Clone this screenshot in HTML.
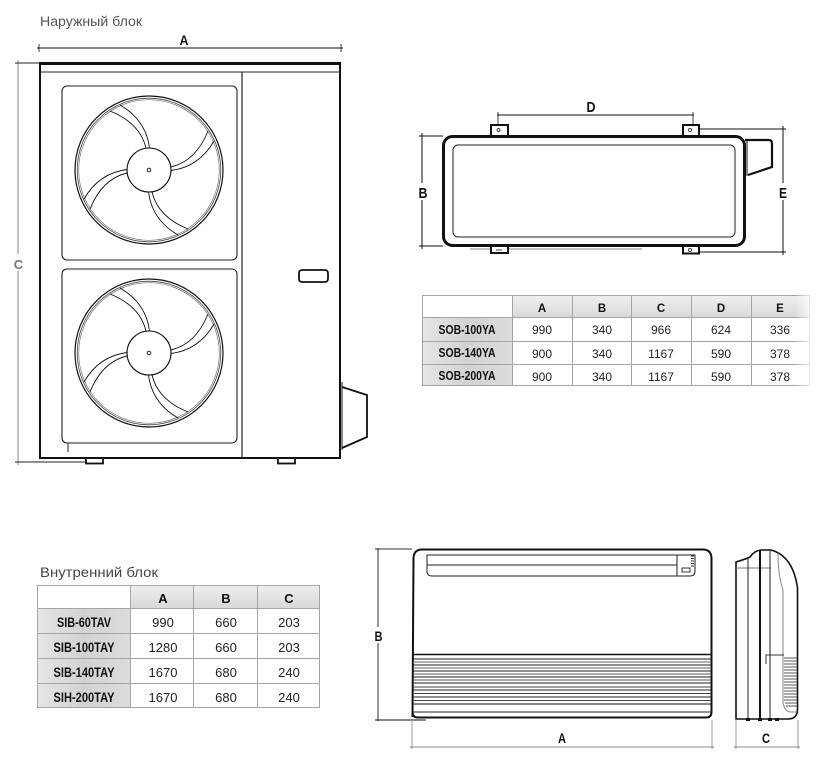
<!DOCTYPE html>
<html><head><meta charset="utf-8"><style>
html,body{margin:0;padding:0;background:#fff;}
svg{display:block;}
text{font-family:"Liberation Sans Narrow","Liberation Sans",sans-serif;}
</style></head><body>
<svg width="825" height="764" viewBox="0 0 825 764" xmlns="http://www.w3.org/2000/svg">
<defs>
<linearGradient id="hg" x1="0" y1="0" x2="0" y2="1"><stop offset="0" stop-color="#f0f0f0"/><stop offset="1" stop-color="#d9d9d9"/></linearGradient>
<linearGradient id="cg" x1="0" y1="0" x2="1" y2="0"><stop offset="0" stop-color="#e6e6e6"/><stop offset="0.5" stop-color="#d2d2d2"/><stop offset="1" stop-color="#dcdcdc"/></linearGradient>
<linearGradient id="fade" x1="0" y1="0" x2="1" y2="0"><stop offset="0" stop-color="#fff" stop-opacity="0"/><stop offset="1" stop-color="#fff" stop-opacity="1"/></linearGradient>
<g id="fan" fill="none" stroke="#111">
<circle r="74" stroke-width="1.2"/>
<circle r="71.8" stroke-width="0.8" stroke="#444"/>
<circle r="70.3" stroke-width="0.7" stroke="#777"/>
<circle r="22" stroke-width="1.1"/>
<circle r="1.8" stroke-width="0.9"/>
<g id="blade" stroke-width="0.9">
<path d="M-3,-22 Q-9,-47 -39,-59"/>
<path d="M0.5,-22 Q-3,-50 -29,-65"/>
</g>
<use href="#blade" transform="rotate(90)"/>
<use href="#blade" transform="rotate(180)"/>
<use href="#blade" transform="rotate(270)"/>
</g>
</defs>

<!-- ============ OUTDOOR UNIT (front) ============ -->
<text x="40" y="26" font-size="13.5" fill="#555" font-family="Liberation Sans, sans-serif" textLength="102" lengthAdjust="spacingAndGlyphs">Наружный блок</text>
<line x1="37" y1="48" x2="343" y2="48" stroke="#111" stroke-width="1"/>
<line x1="39" y1="44" x2="39" y2="52" stroke="#111" stroke-width="0.8"/>
<line x1="341" y1="44" x2="341" y2="52" stroke="#111" stroke-width="0.8"/>
<text x="184" y="45" font-size="14" font-weight="bold" text-anchor="middle" fill="#111" textLength="9" lengthAdjust="spacingAndGlyphs">A</text>
<line x1="18" y1="60" x2="18" y2="465" stroke="#888" stroke-width="1"/>
<line x1="15" y1="63" x2="39" y2="63" stroke="#222" stroke-width="1"/>
<line x1="15" y1="462" x2="86" y2="462" stroke="#222" stroke-width="1"/>
<rect x="13" y="254" width="11" height="17" fill="#fff"/>
<text x="18.5" y="269" font-size="13" font-weight="bold" text-anchor="middle" fill="#777">C</text>
<rect x="40" y="64" width="300" height="394" fill="none" stroke="#111" stroke-width="2"/>
<line x1="39" y1="63.5" x2="341" y2="63.5" stroke="#111" stroke-width="3"/>
<line x1="40" y1="72" x2="340" y2="72" stroke="#222" stroke-width="1"/>
<line x1="242" y1="72" x2="242" y2="458" stroke="#222" stroke-width="1.2"/>
<rect x="62" y="86" width="175" height="174" rx="5" fill="none" stroke="#222" stroke-width="1.1"/>
<rect x="62" y="269" width="175" height="174" rx="5" fill="none" stroke="#222" stroke-width="1.1"/>
<line x1="68" y1="443" x2="68" y2="452" stroke="#222" stroke-width="1"/>
<use href="#fan" transform="translate(149,170)"/>
<use href="#fan" transform="translate(149,353)"/>
<rect x="299" y="270" width="29" height="12" rx="3" fill="none" stroke="#111" stroke-width="1.8"/>
<rect x="86" y="458" width="17" height="5.5" fill="none" stroke="#111" stroke-width="1.8"/>
<rect x="278" y="458" width="17" height="5.5" fill="none" stroke="#111" stroke-width="1.8"/>
<path d="M342,387 L367,395 L367,437 L342,448" fill="none" stroke="#111" stroke-width="1.8"/>
<line x1="342" y1="382" x2="342" y2="450" stroke="#111" stroke-width="1"/>

<!-- ============ OUTDOOR UNIT (top view) ============ -->
<line x1="497" y1="115" x2="694" y2="115" stroke="#111" stroke-width="1"/>
<line x1="498" y1="112" x2="498" y2="128" stroke="#111" stroke-width="0.8"/>
<line x1="693" y1="112" x2="693" y2="128" stroke="#111" stroke-width="0.8"/>
<text x="591" y="112" font-size="14.5" font-weight="bold" text-anchor="middle" fill="#111" textLength="9" lengthAdjust="spacingAndGlyphs">D</text>
<line x1="422" y1="133" x2="422" y2="249" stroke="#111" stroke-width="1"/>
<line x1="419" y1="136" x2="443" y2="136" stroke="#111" stroke-width="1"/>
<line x1="419" y1="246" x2="443" y2="246" stroke="#111" stroke-width="1"/>
<rect x="416" y="183" width="13" height="17" fill="#fff"/>
<text x="423" y="198" font-size="14.5" font-weight="bold" text-anchor="middle" fill="#111" textLength="9" lengthAdjust="spacingAndGlyphs">B</text>
<line x1="783" y1="126" x2="783" y2="255" stroke="#111" stroke-width="1"/>
<line x1="699" y1="129" x2="786" y2="129" stroke="#111" stroke-width="1"/>
<line x1="699" y1="252" x2="786" y2="252" stroke="#111" stroke-width="1"/>
<rect x="777" y="183" width="13" height="17" fill="#fff"/>
<text x="783" y="198" font-size="14.5" font-weight="bold" text-anchor="middle" fill="#111" textLength="8" lengthAdjust="spacingAndGlyphs">E</text>
<line x1="470" y1="249" x2="642" y2="249" stroke="#888" stroke-width="1"/>
<rect x="491" y="125" width="17" height="11" fill="#fff" stroke="#111" stroke-width="2"/>
<circle cx="498.5" cy="130" r="1.5" fill="none" stroke="#111" stroke-width="0.8"/>
<rect x="683" y="125" width="16" height="11" fill="#fff" stroke="#111" stroke-width="2"/>
<circle cx="690" cy="130" r="1.5" fill="none" stroke="#111" stroke-width="0.8"/>
<rect x="491" y="246" width="17" height="7" fill="#fff" stroke="#111" stroke-width="2"/>
<line x1="496" y1="250" x2="502" y2="250" stroke="#111" stroke-width="0.8"/>
<rect x="683" y="246" width="16" height="7.5" fill="#fff" stroke="#111" stroke-width="2"/>
<circle cx="690" cy="250" r="1.5" fill="none" stroke="#111" stroke-width="0.8"/>
<path d="M745,140 H769 Q772,140 772,144 V167 L748,175" fill="none" stroke="#111" stroke-width="2.2"/>
<line x1="747" y1="140" x2="747" y2="176" stroke="#111" stroke-width="1"/>
<rect x="443.5" y="136.5" width="301" height="109" rx="9" fill="none" stroke="#111" stroke-width="3"/>
<rect x="453" y="145" width="282" height="92" rx="5" fill="none" stroke="#222" stroke-width="1"/>

<!-- ============ OUTDOOR TABLE ============ -->
<rect x="512" y="295" width="298" height="22" fill="url(#hg)"/>
<rect x="422" y="317" width="90" height="69" fill="url(#cg)"/>
<g stroke="#a5a5a5" stroke-width="1" fill="none">
<rect x="422.5" y="295.5" width="387" height="90"/>
<line x1="422" y1="317.5" x2="810" y2="317.5"/>
<line x1="422" y1="341.5" x2="810" y2="341.5"/>
<line x1="422" y1="364.5" x2="810" y2="364.5"/>
<line x1="512.5" y1="295" x2="512.5" y2="386"/>
<line x1="572.5" y1="295" x2="572.5" y2="386"/>
<line x1="631.5" y1="295" x2="631.5" y2="386"/>
<line x1="691.5" y1="295" x2="691.5" y2="386"/>
<line x1="751.5" y1="295" x2="751.5" y2="386"/>
</g>
<rect x="795" y="292" width="20" height="97" fill="url(#fade)"/>
<g font-size="11.5" font-weight="bold" text-anchor="middle" fill="#111">
<text x="542" y="312">A</text><text x="602" y="312">B</text><text x="661" y="312">C</text><text x="721" y="312">D</text><text x="780" y="312">E</text>
</g>
<g font-size="13" font-weight="bold" text-anchor="middle" fill="#111">
<text x="467" y="334" textLength="57" lengthAdjust="spacingAndGlyphs">SOB-100YA</text>
<text x="467" y="357" textLength="57" lengthAdjust="spacingAndGlyphs">SOB-140YA</text>
<text x="467" y="380" textLength="57" lengthAdjust="spacingAndGlyphs">SOB-200YA</text>
</g>
<g font-size="12" text-anchor="middle" fill="#222">
<text x="542" y="334">990</text><text x="602" y="334">340</text><text x="661" y="334">966</text><text x="721" y="334">624</text><text x="780" y="334">336</text>
<text x="542" y="358">900</text><text x="602" y="358">340</text><text x="661" y="358">1167</text><text x="721" y="358">590</text><text x="780" y="358">378</text>
<text x="542" y="381">900</text><text x="602" y="381">340</text><text x="661" y="381">1167</text><text x="721" y="381">590</text><text x="780" y="381">378</text>
</g>

<!-- ============ INDOOR TABLE ============ -->
<text x="40" y="577" font-size="14" fill="#444" font-family="Liberation Sans, sans-serif" textLength="118" lengthAdjust="spacingAndGlyphs">Внутренний блок</text>
<rect x="130" y="585" width="190" height="23" fill="url(#hg)"/>
<rect x="37" y="608" width="93" height="100" fill="url(#cg)"/>
<g stroke="#a5a5a5" stroke-width="1" fill="none">
<rect x="37.5" y="585.5" width="282" height="122"/>
<line x1="37" y1="608.5" x2="320" y2="608.5"/>
<line x1="37" y1="633.5" x2="320" y2="633.5"/>
<line x1="37" y1="658.5" x2="320" y2="658.5"/>
<line x1="37" y1="683.5" x2="320" y2="683.5"/>
<line x1="130.5" y1="585" x2="130.5" y2="708"/>
<line x1="193.5" y1="585" x2="193.5" y2="708"/>
<line x1="257.5" y1="585" x2="257.5" y2="708"/>
</g>
<g font-size="13" font-weight="bold" text-anchor="middle" fill="#111">
<text x="163" y="603">A</text><text x="226" y="603">B</text><text x="289" y="603">C</text>
</g>
<g font-size="14" font-weight="bold" text-anchor="middle" fill="#111">
<text x="84" y="627" textLength="54" lengthAdjust="spacingAndGlyphs">SIB-60TAV</text>
<text x="84" y="652" textLength="61" lengthAdjust="spacingAndGlyphs">SIB-100TAY</text>
<text x="84" y="677" textLength="61" lengthAdjust="spacingAndGlyphs">SIB-140TAY</text>
<text x="84" y="702" textLength="61" lengthAdjust="spacingAndGlyphs">SIH-200TAY</text>
</g>
<g font-size="13" text-anchor="middle" fill="#222">
<text x="163" y="627">990</text><text x="226" y="627">660</text><text x="289" y="627">203</text>
<text x="163" y="652">1280</text><text x="226" y="652">660</text><text x="289" y="652">203</text>
<text x="163" y="677">1670</text><text x="226" y="677">680</text><text x="289" y="677">240</text>
<text x="163" y="702">1670</text><text x="226" y="702">680</text><text x="289" y="702">240</text>
</g>

<!-- ============ INDOOR UNIT (front) ============ -->
<line x1="378" y1="548" x2="378" y2="721" stroke="#333" stroke-width="1"/>
<line x1="375" y1="549" x2="412" y2="549" stroke="#333" stroke-width="1"/>
<line x1="375" y1="720" x2="426" y2="720" stroke="#111" stroke-width="1"/>
<rect x="372" y="627" width="12" height="16" fill="#fff"/>
<text x="378.5" y="641" font-size="14" font-weight="bold" text-anchor="middle" fill="#111" textLength="8" lengthAdjust="spacingAndGlyphs">B</text>
<line x1="412" y1="720" x2="412" y2="749" stroke="#999" stroke-width="1"/>
<line x1="712" y1="720" x2="712" y2="749" stroke="#999" stroke-width="1"/>
<line x1="410" y1="747" x2="714" y2="747" stroke="#888" stroke-width="1"/>
<text x="562" y="743" font-size="14" font-weight="bold" text-anchor="middle" fill="#111" textLength="8" lengthAdjust="spacingAndGlyphs">A</text>
<path d="M412.5,717 L413.5,558 Q414,549.5 422,549.5 L703,549.5 Q711,549.5 711.5,558 L711.5,712 Q711.5,717.5 706,717.5 L418,717.5 Q412.5,717.5 412.5,712 Z" fill="none" stroke="#111" stroke-width="2"/>
<path d="M427,555 H695 V571 Q695,576 690,576 H432 Q427,576 427,571 Z" fill="none" stroke="#222" stroke-width="1"/>
<line x1="427" y1="565" x2="677" y2="565" stroke="#222" stroke-width="1"/>
<line x1="677" y1="555" x2="677" y2="576" stroke="#222" stroke-width="1"/>
<rect x="682" y="568" width="8" height="4" fill="none" stroke="#222" stroke-width="0.9"/>
<g stroke="#333" stroke-width="1">
<line x1="691" y1="556" x2="694" y2="556"/><line x1="691" y1="558.5" x2="694" y2="558.5"/><line x1="691" y1="561" x2="694" y2="561"/><line x1="691" y1="563.5" x2="694" y2="563.5"/><line x1="691" y1="566" x2="694" y2="566"/>
</g>
<g stroke-width="1">
<line x1="413" y1="654.5" x2="711" y2="654.5" stroke="#111" stroke-width="1.5"/>
<line x1="413" y1="659" x2="711" y2="659" stroke="#222"/>
<line x1="413" y1="662" x2="711" y2="662" stroke="#666"/>
<line x1="413" y1="665" x2="711" y2="665" stroke="#222"/>
<line x1="413" y1="668" x2="711" y2="668" stroke="#666"/>
<line x1="413" y1="671" x2="711" y2="671" stroke="#222"/>
<line x1="413" y1="674" x2="711" y2="674" stroke="#555"/>
<line x1="413" y1="677" x2="711" y2="677" stroke="#222"/>
<line x1="413" y1="680" x2="711" y2="680" stroke="#555"/>
<line x1="413" y1="683" x2="711" y2="683" stroke="#222"/>
<line x1="413" y1="687" x2="711" y2="687" stroke="#444"/>
<line x1="413" y1="690" x2="711" y2="690" stroke="#222"/>
<line x1="413" y1="693.5" x2="711" y2="693.5" stroke="#444"/>
<line x1="413" y1="697" x2="711" y2="697" stroke="#222"/>
<line x1="413" y1="700.5" x2="711" y2="700.5" stroke="#444"/>
<line x1="413" y1="704" x2="711" y2="704" stroke="#111"/>
<line x1="413" y1="712" x2="711" y2="712" stroke="#222"/>
</g>

<!-- ============ INDOOR UNIT (side) ============ -->
<line x1="736" y1="720" x2="736" y2="749" stroke="#999" stroke-width="1"/>
<line x1="798" y1="720" x2="798" y2="749" stroke="#999" stroke-width="1"/>
<line x1="734" y1="747" x2="800" y2="747" stroke="#888" stroke-width="1"/>
<text x="766" y="743" font-size="14" font-weight="bold" text-anchor="middle" fill="#111" textLength="8" lengthAdjust="spacingAndGlyphs">C</text>
<path d="M736,719 L736,562 Q746,559 750,557 Q755,550 762,550 L771,550 Q793,556 797.5,588 L797.5,709 Q797.5,719 788,719 Z" fill="none" stroke="#111" stroke-width="1.6"/>
<line x1="736" y1="568" x2="771" y2="568" stroke="#777" stroke-width="1"/>
<line x1="748" y1="558" x2="748" y2="719" stroke="#222" stroke-width="1"/>
<line x1="760" y1="550" x2="760" y2="719" stroke="#111" stroke-width="2"/>
<line x1="770" y1="550" x2="770" y2="719" stroke="#222" stroke-width="1"/>
<path d="M778,553 Q778,575 783,590 L783,700 Q783,710 790,712 L797,712" fill="none" stroke="#888" stroke-width="1"/>
<path d="M766,664 L766,655 L784,655" fill="none" stroke="#333" stroke-width="1"/>
<g stroke="#555" stroke-width="1">
<line x1="784" y1="658" x2="797" y2="658"/><line x1="784" y1="661" x2="797" y2="661"/><line x1="784" y1="664" x2="797" y2="664"/><line x1="784" y1="667" x2="797" y2="667"/><line x1="784" y1="670" x2="797" y2="670"/><line x1="784" y1="673" x2="797" y2="673"/><line x1="784" y1="676" x2="797" y2="676"/><line x1="784" y1="679" x2="797" y2="679"/><line x1="784" y1="682" x2="797" y2="682"/><line x1="784" y1="685" x2="797" y2="685"/><line x1="784" y1="688" x2="797" y2="688"/><line x1="784" y1="691" x2="797" y2="691"/><line x1="784" y1="694" x2="797" y2="694"/><line x1="784" y1="697" x2="797" y2="697"/><line x1="784" y1="700" x2="797" y2="700"/><line x1="785" y1="703" x2="797" y2="703"/><line x1="786" y1="706" x2="797" y2="706"/>
</g>
<g fill="#111">
<rect x="746" y="718" width="4" height="3"/><rect x="758" y="718" width="4" height="3"/><rect x="768" y="718" width="4" height="3"/><rect x="775" y="718" width="4" height="3"/>
</g>
</svg>
</body></html>
